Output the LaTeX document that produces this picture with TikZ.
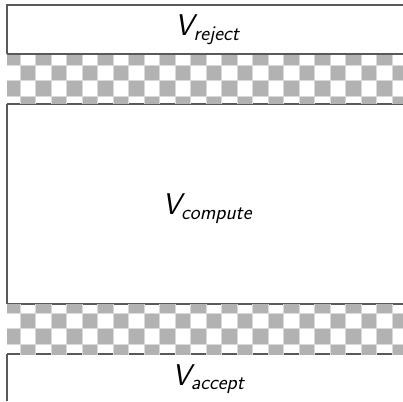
\documentclass[tikz,border=0pt]{standalone}
\usepackage{fontspec}
\tikzset{
  edge/.style={draw=black!65, line width=1.2pt},
  graysq/.style={fill=black!30},
  gridln/.style={draw=black!15, line width=0.8pt},
  lbl/.style={anchor=base, inner sep=0pt, font=\fontsize{30}{36}\selectfont\sffamily\itshape}
}
\newcommand\sublbl[1]{\raisebox{-4.5pt}{\fontsize{21}{24}\selectfont #1}}
\begin{document}
\begin{tikzpicture}[x=1pt,y=1pt]
\useasboundingbox (0,0) rectangle (403,401);
% box outlines
\draw[edge] (403,396) -- (7,396) -- (7,347);
\draw[edge] (7,297) -- (7,97);
\draw[edge] (7,47) -- (7,0);
\draw[edge] (7,297) -- (403,297);
\draw[edge] (7,97) -- (403,97);
\draw[edge] (7,47) -- (403,47);
% checker region 1
\begin{scope}
\clip (7,297) rectangle (403,347);
\foreach \k in {0,...,26}{
  \foreach \j in {0,...,3}{
    \pgfmathtruncatemacro\p{mod(\k+\j,2)}
    \ifnum\p=0
      \fill[graysq] ({4.5+15.5*\k},{351.5-15.5*\j}) rectangle ({20+15.5*\k},{336-15.5*\j});
    \fi
  }
}
\foreach \k in {0,...,26} \draw[gridln] ({4.5+15.5*\k},290) -- ({4.5+15.5*\k},350);
\foreach \j in {0,...,4} \draw[gridln] (0,{351.5-15.5*\j}) -- (403,{351.5-15.5*\j});
\end{scope}
% checker region 2
\begin{scope}
\clip (7,47) rectangle (403,97);
\foreach \k in {0,...,26}{
  \foreach \j in {16,...,19}{
    \pgfmathtruncatemacro\p{mod(\k+\j,2)}
    \ifnum\p=0
      \fill[graysq] ({4.5+15.5*\k},{351.5-15.5*\j}) rectangle ({20+15.5*\k},{336-15.5*\j});
    \fi
  }
}
\foreach \k in {0,...,26} \draw[gridln] ({4.5+15.5*\k},40) -- ({4.5+15.5*\k},100);
\foreach \j in {16,...,20} \draw[gridln] (0,{351.5-15.5*\j}) -- (403,{351.5-15.5*\j});
\end{scope}
% top line of first checker region drawn over
\draw[edge] (7,347) -- (403,347);
% labels
\node[lbl] (reject) at (207,365) {V\sublbl{reject}};
\node[lbl] (compute) at (207,186) {V\sublbl{compute}};
\node[lbl] (accept) at (208,16) {V\sublbl{accept}};
\end{tikzpicture}
\end{document}
